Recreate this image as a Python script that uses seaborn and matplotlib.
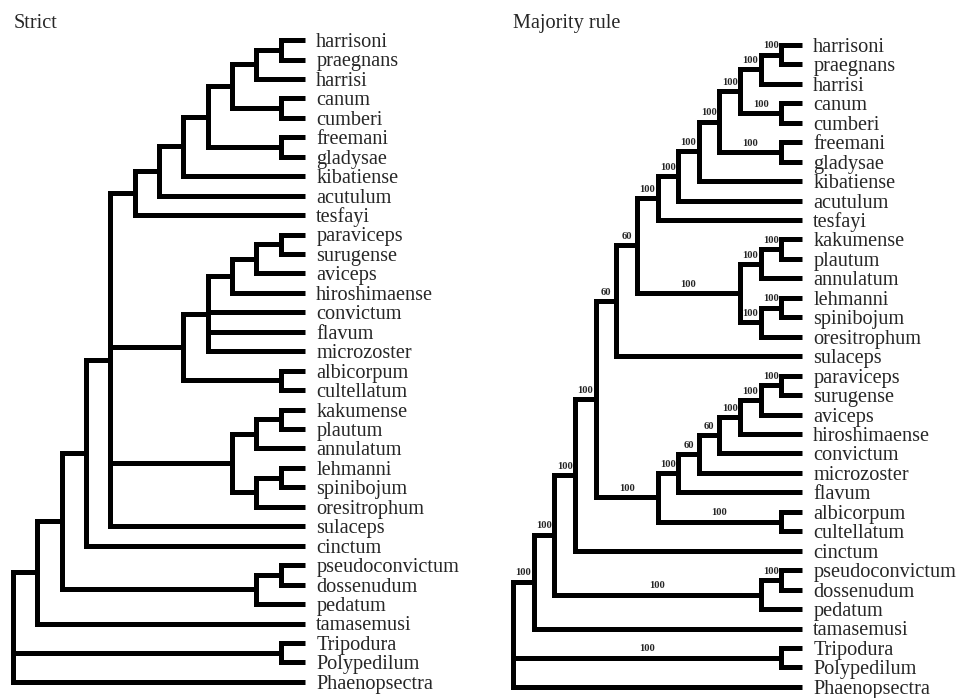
import matplotlib
matplotlib.use("Agg")
import matplotlib.pyplot as plt
import pandas as pd
import seaborn as sns

# ----- datos: los dos arboles en formato Newick (soporte tras el parentesis) ----- #
strict_title = "Strict"
strict_newick = (
    "((((((((((((harrisoni,praegnans),harrisi),(canum,cumberi)),(freemani,gladysae)),"
    "kibatiense),acutulum),tesfayi),"
    "(((((paraviceps,surugense),aviceps),hiroshimaense),convictum,flavum,microzoster),"
    "(albicorpum,cultellatum)),"
    "(((kakumense,plautum),annulatum),((lehmanni,spinibojum),oresitrophum)),sulaceps),"
    "cinctum),((pseudoconvictum,dossenudum),pedatum)),tamasemusi),"
    "(Tripodura,Polypedilum),Phaenopsectra);"
)

majority_title = "Majority rule"
majority_newick = (
    "(((((((" + "(((((((harrisoni,praegnans)100,harrisi)100,(canum,cumberi)100)100,"
    "(freemani,gladysae)100)100,kibatiense)100,acutulum)100,tesfayi)100,"
    "(((kakumense,plautum)100,annulatum)100,((lehmanni,spinibojum)100,oresitrophum)100)100)60,"
    "sulaceps)60,"
    "(((((((paraviceps,surugense)100,aviceps)100,hiroshimaense)100,convictum)60,microzoster)60,"
    "flavum)100,(albicorpum,cultellatum)100)100)100,cinctum)100,"
    "((pseudoconvictum,dossenudum)100,pedatum)100)100,tamasemusi)100,"
    "(Tripodura,Polypedilum)100,Phaenopsectra);"
)


def parse_newick(s):
    pos = 0

    def read_label():
        nonlocal pos
        start = pos
        while pos < len(s) and s[pos] not in ",();":
            pos += 1
        return s[start:pos]

    def node():
        nonlocal pos
        if s[pos] == "(":
            pos += 1
            children = [node()]
            while s[pos] == ",":
                pos += 1
                children.append(node())
            pos += 1
            return {"children": children, "support": read_label()}
        return {"children": [], "name": read_label()}

    return node()


def layout(tree):
    # y = orden de la hoja, x = -(altura del nodo), hojas alineadas en x=0
    count = [0]

    def walk(n):
        if not n["children"]:
            n["y"] = count[0]
            count[0] += 1
            n["h"] = 0
        else:
            for c in n["children"]:
                walk(c)
            n["y"] = (n["children"][0]["y"] + n["children"][-1]["y"]) / 2
            n["h"] = 1 + max(c["h"] for c in n["children"])
        n["x"] = -n["h"]

    walk(tree)
    return tree


def segments(tree):
    rows, leaves, nodes = [], [], []
    seg = [0]

    def add(points):
        for x, y in points:
            rows.append({"seg": seg[0], "x": x, "y": y})
        seg[0] += 1

    def walk(n, parent=None):
        if not n["children"]:
            leaves.append(n)
            return
        if parent is not None:
            nodes.append((n, parent))
        ch = n["children"]
        first, last = ch[0], ch[-1]
        add([(first["x"], first["y"]), (n["x"], first["y"]),
             (n["x"], last["y"]), (last["x"], last["y"])])
        for c in ch[1:-1]:
            add([(n["x"], c["y"]), (c["x"], c["y"])])
        for c in ch:
            walk(c, n)

    walk(tree)
    return pd.DataFrame(rows), leaves, nodes


sns.set_style("white")
plt.rcParams["font.family"] = ["Liberation Serif", "DejaVu Serif"]

fig = plt.figure(figsize=(9.6, 6.98), dpi=100)
panels = [
    (strict_title, strict_newick, [0.0, 0.0, 0.5, 1.0], (-12.54, 7.19), (33.83, -2.06)),
    (majority_title, majority_newick, [0.5, 0.0, 0.5, 1.0], (-15.6, 7.65), (33.57, -2.31)),
]

for title, newick, rect, xlim, ylim in panels:
    ax = fig.add_axes(rect)
    tree = layout(parse_newick(newick))
    df, leaves, nodes = segments(tree)
    sns.lineplot(data=df, x="x", y="y", units="seg", estimator=None, sort=False,
                 color="black", linewidth=3.6, legend=False, ax=ax,
                 solid_joinstyle="miter", solid_capstyle="butt")
    for lf in leaves:
        ax.annotate(lf["name"], (lf["x"], lf["y"]), xytext=(8, -5),
                    textcoords="offset points", ha="left", va="baseline",
                    fontsize=14.6)
    for n, p in nodes:
        if n["support"]:
            ax.annotate(n["support"], ((n["x"] + p["x"]) / 2, n["y"]), xytext=(0, 4.5),
                        textcoords="offset points", ha="center", va="baseline",
                        fontsize=7.6, fontweight="bold")
    ax.text(tree["x"], ylim[1] + 1.45, title, ha="left", va="baseline", fontsize=14.6)
    ax.set_xlim(*xlim)
    ax.set_ylim(*ylim)
    ax.set_axis_off()

fig.savefig("out.png", dpi=100)
